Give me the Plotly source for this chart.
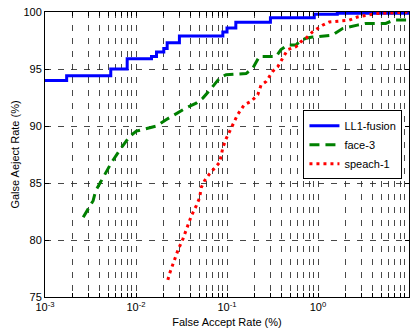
import plotly.graph_objects as go

# ---- data ----
fusion_x = [0.001, 0.00173, 0.00528, 0.0080, 0.0148, 0.0168, 0.0202, 0.022, 0.030, 0.09, 0.10, 0.125, 0.30, 0.91, 1.63, 10]
fusion_y = [94.0, 94.4, 95.0, 95.9, 96.1, 96.5, 96.8, 97.3, 97.9, 98.25, 98.6, 99.1, 99.5, 99.8, 99.9, 100.0]

face_x = [0.00263, 0.00338, 0.0036, 0.00436, 0.00538, 0.00692, 0.00855, 0.0101, 0.0168, 0.0216,
          0.0278, 0.0357, 0.0459, 0.0543, 0.0671, 0.0828, 0.098, 0.162, 0.192, 0.227, 0.346,
          0.392, 0.464, 0.573, 0.623, 0.738, 0.871, 1.44, 1.86, 2.2, 2.71, 3.35, 5.55, 6.86, 10]
face_y = [82.0, 83.45, 84.3, 85.5, 86.8, 88.1, 89.1, 89.55, 90.0, 90.57,
          91.1, 91.6, 92.0, 92.45, 93.3, 94.2, 94.5, 94.6, 95.06, 96.1, 96.1,
          96.7, 97.1, 97.1, 97.4, 97.7, 97.8, 97.97, 98.55, 98.7, 98.85, 99.0, 99.0, 99.3, 99.3]

speech_x = [0.0224, 0.0234, 0.0255, 0.0289, 0.0328, 0.0372, 0.0405, 0.0459, 0.050, 0.0521, 0.0567,
            0.0643, 0.073, 0.0828, 0.0864, 0.09, 0.098, 0.111, 0.131, 0.155, 0.184, 0.218, 0.237,
            0.269, 0.318, 0.361, 0.409, 0.464, 0.573, 0.65, 0.738, 0.871, 1.12, 1.33, 2.2, 2.71, 4.31, 10]
speech_y = [76.5, 77.06, 77.9, 79.1, 80.1, 81.4, 82.1, 83.0, 83.7, 84.6, 85.2,
            85.8, 86.35, 86.8, 87.4, 88.1, 88.9, 89.8, 91.0, 91.87, 92.16, 92.74, 93.6,
            93.9, 94.8, 95.2, 95.9, 96.7, 96.95, 97.4, 97.7, 98.26, 98.84, 99.13, 99.28, 99.56, 99.86, 100.0]

decades = [-3, -2, -1, 0, 1]
x_tickvals = [10.0 ** d for d in decades]
x_ticktext = ["10<sup>%d</sup>" % d for d in decades]
x_minorvals = [k * 10.0 ** d for d in decades[:-1] for k in range(2, 10)]
y_tickvals = [75, 80, 85, 90, 95, 100]

font_family = "Liberation Sans, Arial, sans-serif"

fig = go.Figure()
fig.add_trace(go.Scatter(x=fusion_x, y=fusion_y, mode="lines", name="LL1-fusion",
                         line=dict(color="#0000FF", width=3, shape="hv")))
fig.add_trace(go.Scatter(x=face_x, y=face_y, mode="lines", name="face-3",
                         line=dict(color="#008000", width=3, dash="10px,6px")))
fig.add_trace(go.Scatter(x=speech_x, y=speech_y, mode="lines", name="speach-1",
                         line=dict(color="#FF0000", width=3, dash="3px,4px")))

grid_col = "rgba(40,40,40,0.85)"
fig.update_layout(
    width=416, height=334,
    margin=dict(l=45, r=6, t=10, b=37),
    paper_bgcolor="white", plot_bgcolor="white",
    font=dict(family=font_family, size=11, color="black"),
    showlegend=True,
    legend=dict(x=0.982, y=0.655, xanchor="right", yanchor="top",
                bgcolor="white", bordercolor="black", borderwidth=1,
                font=dict(size=11), tracegroupgap=0),
)
fig.update_xaxes(
    type="log", range=[-3, 1],
    tickmode="array", tickvals=x_tickvals, ticktext=x_ticktext,
    ticks="inside", ticklen=4, tickcolor="black", tickwidth=1,
    showline=True, linecolor="black", linewidth=1, mirror="allticks",
    showgrid=True, gridcolor=grid_col, griddash="6px,7px", gridwidth=1,
    minor=dict(tickmode="array", tickvals=x_minorvals, ticks="inside", ticklen=4,
               tickcolor="black", tickwidth=1, showgrid=True, gridcolor=grid_col,
               griddash="6px,7px", gridwidth=1),
    zeroline=False,
    title=dict(text="False Accept Rate (%)", font=dict(size=11), standoff=6),
)
fig.update_yaxes(
    range=[75, 100],
    tickmode="array", tickvals=y_tickvals,
    ticks="inside", ticklen=4, tickcolor="black", tickwidth=1,
    showline=True, linecolor="black", linewidth=1, mirror="allticks",
    showgrid=True, gridcolor=grid_col, griddash="6px,7px", gridwidth=1,
    zeroline=False,
    title=dict(text="Galse Aeject Rate (%)", font=dict(size=11), standoff=1),
)

fig.write_html("out.html")
